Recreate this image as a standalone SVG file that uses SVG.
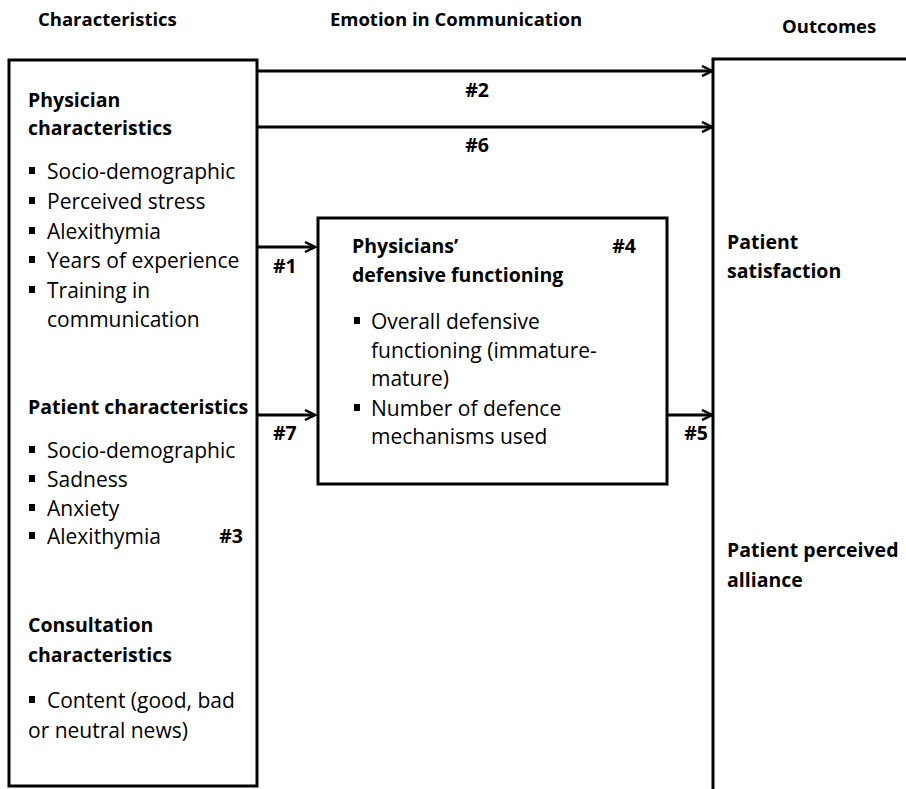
<svg xmlns="http://www.w3.org/2000/svg" width="906" height="789" viewBox="0 0 906 789">
<style>
text{font-family:"Open Sans","Liberation Sans",sans-serif;fill:#000}
.h{font-size:18.5px;font-weight:bold}
.b{font-size:19.5px;font-weight:bold}
.t{font-size:21px}
.box{fill:#fff;stroke:#000;stroke-width:3}
.ln{fill:none;stroke:#000;stroke-width:3}
.bul{fill:#000}
</style>
<defs>
<marker id="ah" markerWidth="14" markerHeight="12" refX="12" refY="6" orient="auto" markerUnits="userSpaceOnUse">
<path d="M2,1 L12,6 L2,11" fill="none" stroke="#000" stroke-width="2.5"/>
</marker>
</defs>
<g id="headers">
<text class="h" x="38" y="26">Characteristics</text>
<text class="h" x="456" y="26" text-anchor="middle">Emotion in Communication</text>
<text class="h" x="782" y="33">Outcomes</text>
</g>
<g id="characteristics">
<rect class="box" x="9" y="60" width="248" height="726"/>
<text class="b" x="28" y="107">Physician</text>
<text class="b" x="28" y="135">characteristics</text>
<rect class="bul" x="29" y="167" width="6" height="7"/><text class="t" x="47" y="179">Socio-demographic</text>
<rect class="bul" x="29" y="197" width="6" height="7"/><text class="t" x="47" y="209">Perceived stress</text>
<rect class="bul" x="29" y="227" width="6" height="7"/><text class="t" x="47" y="239">Alexithymia</text>
<rect class="bul" x="29" y="256" width="6" height="7"/><text class="t" x="47" y="268">Years of experience</text>
<rect class="bul" x="29" y="286" width="6" height="7"/><text class="t" x="47" y="298">Training in</text>
<text class="t" x="47" y="327">communication</text>
<text class="b" x="28" y="414">Patient characteristics</text>
<rect class="bul" x="29" y="446" width="6" height="7"/><text class="t" x="47" y="458">Socio-demographic</text>
<rect class="bul" x="29" y="475" width="6" height="7"/><text class="t" x="47" y="487">Sadness</text>
<rect class="bul" x="29" y="504" width="6" height="7"/><text class="t" x="47" y="516">Anxiety</text>
<rect class="bul" x="29" y="532" width="6" height="7"/><text class="t" x="47" y="544">Alexithymia</text>
<text class="b" x="243" y="543" text-anchor="end">#3</text>
<text class="b" x="28" y="632">Consultation</text>
<text class="b" x="28" y="662">characteristics</text>
<rect class="bul" x="29" y="696" width="6" height="7"/><text class="t" x="47" y="708">Content (good, bad</text>
<text class="t" x="28" y="738">or neutral news)</text>
</g>
<g id="defensive">
<rect class="box" x="318" y="218" width="349" height="266"/>
<text class="b" x="352" y="253">Physicians’</text>
<text class="b" x="352" y="282">defensive functioning</text>
<text class="b" x="636" y="253" text-anchor="end">#4</text>
<rect class="bul" x="354" y="317" width="6" height="7"/><text class="t" x="371" y="329">Overall defensive</text>
<text class="t" x="371" y="358">functioning (immature-</text>
<text class="t" x="371" y="386">mature)</text>
<rect class="bul" x="354" y="404" width="6" height="7"/><text class="t" x="371" y="416">Number of defence</text>
<text class="t" x="371" y="444">mechanisms used</text>
</g>
<g id="outcomes">
<path class="ln" d="M713,789 L713,59 L906,59"/>
<text class="b" x="727" y="249">Patient</text>
<text class="b" x="727" y="278">satisfaction</text>
<text class="b" x="727" y="557">Patient perceived</text>
<text class="b" x="727" y="587">alliance</text>
</g>
<g id="connectors">
<line class="ln" x1="257" y1="71" x2="712" y2="71" marker-end="url(#ah)"/>
<line class="ln" x1="257" y1="127" x2="712" y2="127" marker-end="url(#ah)"/>
<line class="ln" x1="257" y1="247" x2="315" y2="247" marker-end="url(#ah)"/>
<line class="ln" x1="257" y1="415" x2="315" y2="415" marker-end="url(#ah)"/>
<line class="ln" x1="667" y1="415" x2="712" y2="415" marker-end="url(#ah)"/>
<text class="b" x="477" y="97" text-anchor="middle">#2</text>
<text class="b" x="477" y="152" text-anchor="middle">#6</text>
<text class="b" x="273" y="273">#1</text>
<text class="b" x="273" y="440">#7</text>
<text class="b" x="708" y="440" text-anchor="end">#5</text>
</g>
</svg>
